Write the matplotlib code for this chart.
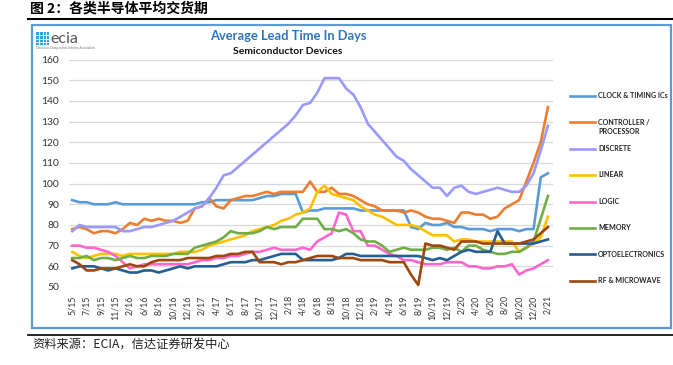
import numpy as np
import matplotlib
matplotlib.use("Agg")
import matplotlib.pyplot as plt
from matplotlib.patches import Rectangle
from matplotlib.lines import Line2D

# month labels (data has a few gaps at the start)
months = [
    "5/15", "6/15", "7/15", "8/15", "9/15", "10/15", "11/15", "1/16", "2/16", "4/16",
    "6/16", "7/16", "8/16", "9/16", "10/16", "11/16", "12/16", "1/17", "2/17", "3/17",
    "4/17", "5/17", "6/17", "7/17", "8/17", "9/17", "10/17", "11/17", "12/17", "1/18",
    "2/18", "3/18", "4/18", "5/18", "6/18", "7/18", "8/18", "9/18", "10/18", "11/18",
    "12/18", "1/19", "2/19", "3/19", "4/19", "5/19", "6/19", "7/19", "8/19", "9/19",
    "10/19", "11/19", "12/19", "1/20", "2/20", "3/20", "4/20", "5/20", "6/20", "7/20",
    "8/20", "9/20", "10/20", "11/20", "12/20", "1/21", "2/21"]

clock = [92, 91, 91, 90, 90, 90, 91, 90, 90, 90,
         90, 90, 90, 90, 90, 90, 90, 90, 91, 91,
         92, 92, 92, 92, 92, 92, 93, 94, 94, 95,
         95, 95, 86, 87, 87, 88, 88, 88, 88, 88,
         87, 87, 87, 87, 87, 87, 87, 79, 78, 81,
         80, 80, 81, 79, 79, 78, 78, 78, 77, 78,
         78, 78, 77, 78, 78, 103, 105]
controller = [78, 79, 78, 76, 77, 77, 76, 78, 81, 80,
              83, 82, 83, 82, 82, 81, 82, 88, 89, 93,
              89, 88, 92, 93, 94, 94, 95, 96, 95, 96,
              96, 96, 96, 101, 96, 96, 98, 95, 95, 94,
              92, 90, 89, 87, 87, 87, 86, 87, 86, 84,
              83, 83, 82, 81, 86, 86, 85, 85, 83, 84,
              88, 90, 92, 101, 110, 120, 137]
discrete = [77, 80, 79, 79, 79, 79, 79, 77, 77, 78,
            79, 79, 80, 81, 82, 84, 86, 88, 89, 93,
            98, 104, 105, 108, 111, 114, 117, 120, 123, 126,
            129, 133, 138, 139, 144, 151, 151, 151, 146, 143,
            137, 129, 125, 121, 117, 113, 111, 107, 104, 101,
            98, 98, 94, 98, 99, 96, 95, 96, 97, 98,
            97, 96, 96, 99, 105, 116, 128]
linear = [67, 65, 64, 65, 66, 66, 66, 65, 66, 66,
          66, 66, 66, 66, 66, 67, 67, 67, 68, 70,
          71, 72, 73, 74, 75, 77, 78, 79, 80, 82,
          83, 85, 86, 88, 96, 99, 95, 94, 93, 92,
          89, 87, 85, 84, 82, 80, 80, 80, 79, 77,
          75, 75, 75, 72, 73, 73, 72, 72, 72, 72,
          72, 72, 67, 69, 71, 74, 84]
logic = [70, 70, 69, 69, 68, 67, 65, 62, 59, 60,
         61, 61, 61, 61, 61, 61, 61, 62, 63, 63,
         64, 64, 65, 65, 66, 67, 67, 68, 69, 68,
         68, 68, 69, 68, 72, 74, 76, 86, 85, 77,
         77, 70, 70, 68, 66, 65, 63, 63, 62, 61,
         61, 61, 62, 62, 62, 60, 60, 59, 59, 60,
         60, 61, 56, 58, 59, 61, 63]
memory = [64, 64, 65, 63, 64, 64, 63, 64, 65, 64,
          64, 65, 65, 65, 66, 66, 66, 69, 70, 71,
          72, 74, 77, 76, 76, 76, 77, 79, 78, 79,
          79, 79, 83, 83, 83, 78, 78, 77, 78, 76,
          73, 72, 72, 70, 67, 68, 69, 68, 68, 68,
          69, 69, 68, 69, 67, 70, 70, 68, 67, 66,
          66, 67, 67, 69, 72, 83, 94]
opto = [59, 60, 60, 60, 59, 58, 59, 58, 57, 57,
        58, 58, 57, 58, 59, 60, 59, 60, 60, 60,
        60, 61, 62, 62, 62, 63, 63, 64, 65, 66,
        66, 66, 63, 63, 63, 63, 63, 64, 66, 66,
        65, 65, 65, 65, 65, 65, 65, 65, 65, 64,
        63, 64, 63, 65, 67, 68, 67, 67, 67, 77,
        71, 71, 71, 71, 71, 72, 73]
rf = [63, 61, 58, 58, 59, 59, 59, 60, 61, 60,
      60, 62, 63, 63, 63, 63, 64, 64, 64, 64,
      65, 65, 66, 66, 67, 67, 62, 62, 62, 61,
      62, 62, 63, 64, 65, 65, 65, 64, 64, 64,
      63, 63, 63, 63, 62, 62, 62, 56, 51, 71,
      70, 70, 69, 68, 72, 72, 72, 71, 71, 71,
      71, 71, 71, 72, 73, 76, 79]

names = ["CLOCK & TIMING ICs", "CONTROLLER /\nPROCESSOR", "DISCRETE", "LINEAR",
         "LOGIC", "MEMORY", "OPTOELECTRONICS", "RF & MICROWAVE"]
series = [clock, controller, discrete, linear, logic, memory, opto, rf]
colors = ["#5B9BD5", "#ED7D31", "#9999FF", "#FFC000",
          "#FF66CC", "#70AD47", "#255E91", "#9E480E"]

W, H = 673, 365
def fx(px):
    return px / W
def fy(py):
    return 1 - py / H

fig = plt.figure(figsize=(W / 100, H / 100), dpi=100)

ax = fig.add_axes([fx(69), fy(287), fx(553) - fx(69), fy(59.5) - fy(287)])
x = np.arange(len(months))
for vals, c in zip(series, colors):
    ax.plot(x, vals, color=c, lw=1.9, solid_joinstyle="round")

ax.set_xlim(-0.45, 66.7)
ax.set_ylim(50, 160)
ax.set_yticks(np.arange(50, 161, 10))
ax.yaxis.grid(True, color="#D9D9D9", lw=0.9)
ax.set_axisbelow(True)
for s in ax.spines.values():
    s.set_visible(False)
ax.set_xticks(x[::2])
ax.set_xticklabels(months[::2], rotation=90, fontsize=6.3, family="Lato", color="#333333")
ax.tick_params(axis="x", length=0, pad=6)
ax.tick_params(axis="y", length=0, pad=7, labelsize=7.4, labelcolor="#333333")
for t in ax.get_yticklabels():
    t.set_family("Lato")

# frame around chart, rules for title and source
fig.add_artist(Rectangle((fx(32), fy(328)), fx(671) - fx(32), fy(25) - fy(328),
                         transform=fig.transFigure, fill=False, edgecolor="#5B9BD5", lw=1.6))
fig.add_artist(Line2D([fx(28), fx(673)], [fy(19), fy(19)], color="black", lw=1.5))
fig.add_artist(Line2D([fx(28), fx(673)], [fy(335), fy(335)], color="black", lw=1.2))

fig.text(fx(30), fy(9), "图 2：各类半导体平均交货期", fontsize=10, fontweight="bold",
         family=["Noto Sans CJK SC", "DejaVu Sans"], va="center")
fig.text(fx(32), fy(345), "资料来源：ECIA，信达证券研发中心", fontsize=8.8, style="italic",
         family=["Noto Sans CJK SC", "DejaVu Sans"], va="center", color="#222222")

# ecia logo (rough)
fig.add_artist(Rectangle((fx(36), fy(45)), fx(13), fy(32) - fy(45),
                         transform=fig.transFigure, facecolor="#29A9E0", edgecolor="none"))
for k in range(1, 4):
    fig.add_artist(Line2D([fx(36 + 3.25 * k)] * 2, [fy(45), fy(32)], color="white", lw=0.6))
    fig.add_artist(Line2D([fx(36), fx(49)], [fy(32 + 3.25 * k)] * 2, color="white", lw=0.6))
fig.text(fx(50), fy(39), "ecia", fontsize=11.5, family="Lato", color="#555555", va="center")
fig.text(fx(36), fy(48), "Electronic Components Industry Association", fontsize=2.2,
         family="Lato", color="#777777", va="center")

fig.text(fx(288), fy(36), "Average Lead Time In Days", fontsize=9.3, fontweight="bold",
         family="Lato", color="#2E75B6", ha="center", va="center")
fig.text(fx(288), fy(51), "Semiconductor Devices", fontsize=7.5, fontweight="bold",
         family="Lato", color="#111111", ha="center", va="center")

# legend on the right
for k, (nm, c) in enumerate(zip(names, colors)):
    yy = 96 + 26.4 * k
    fig.add_artist(Line2D([fx(570), fx(595)], [fy(yy), fy(yy)], color=c, lw=1.9))
    fig.text(fx(598), fy(yy - 3.8), nm, fontsize=5.1, fontweight="bold", family="Lato",
             color="#222222", va="top", linespacing=1.45)

fig.savefig("out.png", dpi=100)
